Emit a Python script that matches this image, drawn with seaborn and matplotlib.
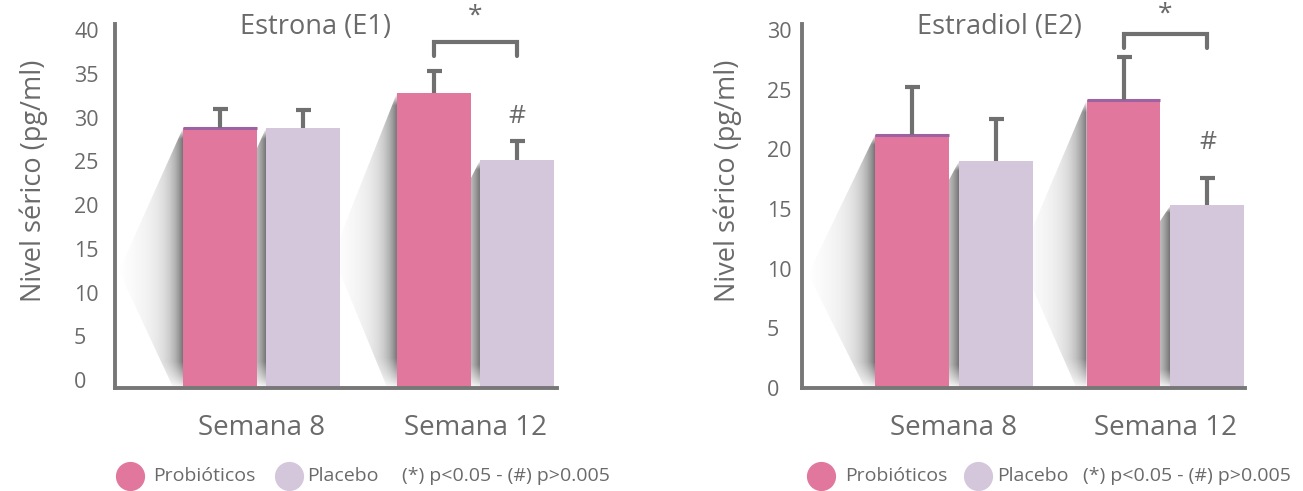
import numpy as np
import pandas as pd
import matplotlib
matplotlib.use("Agg")
import matplotlib.pyplot as plt
import seaborn as sns
from matplotlib.patches import Polygon
from matplotlib.lines import Line2D

# ---------------- data ----------------
weeks = ["Semana 8", "Semana 12"]
groups = ["Probióticos", "Placebo"]

e1_probioticos = [28.8, 32.8]
e1_placebo = [28.8, 25.1]
e1_probioticos_err = [2.2, 2.5]
e1_placebo_err = [2.1, 2.2]

e2_probioticos = [21.2, 24.1]
e2_placebo = [19.0, 15.3]
e2_probioticos_err = [4.0, 3.6]
e2_placebo_err = [3.5, 2.3]

titles = ["Estrona (E1)", "Estradiol (E2)"]
ylabel = "Nivel sérico (pg/ml)"
yticks_e1 = [0, 5, 10, 15, 20, 25, 30, 35, 40]
yticks_e2 = [0, 5, 10, 15, 20, 25, 30]
legend_note = "(*) p<0.05 - (#) p>0.005"

# significance annotations (value levels)
e1_bracket = (38.6, 37.0)
e2_bracket = (29.7, 28.5)
e1_star_y, e1_hash_y = 41.6, 30.1
e2_star_y, e2_hash_y = 31.3, 20.6

# ---------------- style ----------------
PINK = "#E1779C"
LAV = "#D5C7DB"
PURPLE = "#9C62A2"
GREY = "#707070"
TXT = "#6A6A6A"

sns.set_theme(style="white")
plt.rcParams["font.family"] = ["Open Sans", "DejaVu Sans"]

W, H = 1303, 491
fig = plt.figure(figsize=(W / 100, H / 100), dpi=100)


def fx(px):
    return px / W


def fy(py):
    return 1 - py / H


def add_shadow(ax, p, ymin, d):
    x0 = p.get_x()
    top = p.get_y() + p.get_height()
    hh = top - ymin
    poly = Polygon([(x0, top), (x0 - d, top - 0.55 * hh),
                    (x0 - 0.15 * d, ymin), (x0, ymin)],
                   closed=True, transform=ax.transData)
    nx, ny = 240, 240
    xs = np.linspace(x0 - d, x0, nx)
    ys = np.linspace(ymin, top, ny)
    dist = (x0 - xs) / d
    horiz = 0.66 * np.exp(-dist / 0.17) + 0.10 * (1 - dist)
    yf = (ys - ymin) / hh
    vert = np.clip(yf / 0.10, 0, 1) ** 0.8 * np.clip((1 - yf) / 0.04, 0, 1)
    alpha = vert[:, None] * horiz[None, :]
    img = np.zeros((ny, nx, 4))
    img[..., :3] = 0.22
    img[..., 3] = np.clip(alpha, 0, 1)
    im = ax.imshow(img, origin="lower", extent=[x0 - d, x0, ymin, top],
                   aspect="auto", interpolation="bilinear", zorder=0.5)
    im.set_clip_path(poly)


panels = [
    dict(prob=e1_probioticos, plac=e1_placebo, perr=e1_probioticos_err,
         lerr=e1_placebo_err, title=titles[0], yticks=yticks_e1,
         box=(115, 557, 24, 388), ylim=(-0.91, 40.69), xlim=(-0.685, 1.381),
         width=0.776, gap=0.108, shadow=0.30, tickpad=29.5,
         title_pos=(315, 27), ylab_x=34, purple=[True, False],
         bracket=e1_bracket, star_y=e1_star_y, hash_y=e1_hash_y,
         legend_x=(130, 153, 289, 307, 402)),
    dict(prob=e2_probioticos, plac=e2_placebo, perr=e2_probioticos_err,
         lerr=e2_placebo_err, title=titles[1], yticks=yticks_e2,
         box=(802, 1245, 24, 388), ylim=(0, 30.5), xlim=(-0.719, 1.376),
         width=0.794, gap=0.119, shadow=0.317, tickpad=25.2,
         title_pos=(999, 27), ylab_x=728, purple=[True, True],
         bracket=e2_bracket, star_y=e2_star_y, hash_y=e2_hash_y,
         legend_x=(821, 845, 978, 997, 1083)),
]

for cfg in panels:
    x0, x1, y0, y1 = cfg["box"]
    ax = fig.add_axes([fx(x0), fy(y1), fx(x1) - fx(x0), (y1 - y0) / H])
    df = pd.DataFrame({
        "semana": weeks * 2,
        "grupo": [groups[0]] * 2 + [groups[1]] * 2,
        "valor": list(cfg["prob"]) + list(cfg["plac"]),
    })
    sns.barplot(data=df, x="semana", y="valor", hue="grupo", order=weeks,
                hue_order=groups, palette=[PINK, LAV], saturation=1,
                width=cfg["width"], gap=cfg["gap"], errorbar=None,
                legend=False, ax=ax, linewidth=0, zorder=1)
    ymin = cfg["ylim"][0]
    bars = sorted([p for p in ax.patches], key=lambda p: p.get_x())
    # extend bars down to the axis line
    for p in bars:
        top = p.get_y() + p.get_height()
        p.set_y(ymin)
        p.set_height(top - ymin)
    # shadows
    for p in bars:
        add_shadow(ax, p, ymin, cfg["shadow"])
    # purple top edge on probiotic bars
    prob_bars = [bars[0], bars[2]]
    for p, flag in zip(prob_bars, cfg["purple"]):
        if flag:
            t = p.get_y() + p.get_height()
            ax.plot([p.get_x(), p.get_x() + p.get_width()], [t, t],
                    color=PURPLE, lw=2.2, solid_capstyle="butt", zorder=2)
    # error bars (upper only)
    errs = [cfg["perr"][0], cfg["lerr"][0], cfg["perr"][1], cfg["lerr"][1]]
    xc = [p.get_x() + p.get_width() / 2 for p in bars]
    tops = [p.get_y() + p.get_height() for p in bars]
    eb = ax.errorbar(xc, tops, yerr=[np.zeros(4), errs], fmt="none",
                     ecolor=GREY, elinewidth=3, capsize=5.4, capthick=3,
                     zorder=3)
    caplines = eb[1]
    if len(caplines) == 2:
        caplines[0].set_visible(False)
    # significance bracket
    by, bl = cfg["bracket"]
    xa, xb = xc[2], xc[3]
    ax.plot([xa, xa, xb, xb], [bl, by, by, bl], color=GREY, lw=3,
            solid_joinstyle="miter", clip_on=False, zorder=3)
    ax.text((xa + xb) / 2, cfg["star_y"], "*", ha="center", va="center",
            fontsize=19, color=TXT, clip_on=False)
    ax.text(xb, cfg["hash_y"], "#", ha="center", va="center",
            fontsize=19, color=TXT, clip_on=False)

    ax.set_xlim(*cfg["xlim"])
    ax.set_ylim(*cfg["ylim"])
    ax.set_yticks(cfg["yticks"])
    ax.set_yticklabels([str(v) for v in cfg["yticks"]])
    for lab in ax.get_yticklabels():
        lab.set_ha("left")
    ax.tick_params(axis="y", length=0, pad=cfg["tickpad"], labelsize=15.5,
                   labelcolor=TXT)
    ax.tick_params(axis="x", length=0, pad=19, labelsize=20, labelcolor=TXT)
    ax.set_xlabel("")
    ax.set_ylabel(ylabel, fontsize=19.5, color=TXT)
    ax.yaxis.set_label_coords((cfg["ylab_x"] - x0) / (x1 - x0),
                              (y1 - 181) / (y1 - y0))
    ax.yaxis.label.set_va("center")
    for s in ["top", "right"]:
        ax.spines[s].set_visible(False)
    for s in ["left", "bottom"]:
        ax.spines[s].set_color("#777777")
        ax.spines[s].set_linewidth(2.8)
    ax.set_facecolor("none")

    tx, ty = cfg["title_pos"]
    fig.text(fx(tx), fy(ty), cfg["title"], ha="center", va="center",
             fontsize=19.5, color=TXT)

    # legend row
    c1, t1, c2, t2, t3 = cfg["legend_x"]
    ly = fy(476)
    fig.add_artist(Line2D([fx(c1)], [ly], marker="o", markersize=20,
                          color=PINK, lw=0, transform=fig.transFigure))
    fig.add_artist(Line2D([fx(c2)], [ly], marker="o", markersize=20,
                          color=LAV, lw=0, transform=fig.transFigure))
    fig.text(fx(t1), ly, groups[0], ha="left", va="center", fontsize=14,
             color=TXT)
    fig.text(fx(t2), ly, groups[1], ha="left", va="center", fontsize=14,
             color=TXT)
    fig.text(fx(t3), ly, legend_note, ha="left", va="center", fontsize=14,
             color=TXT)

fig.savefig("out.png", dpi=100, facecolor="white")
